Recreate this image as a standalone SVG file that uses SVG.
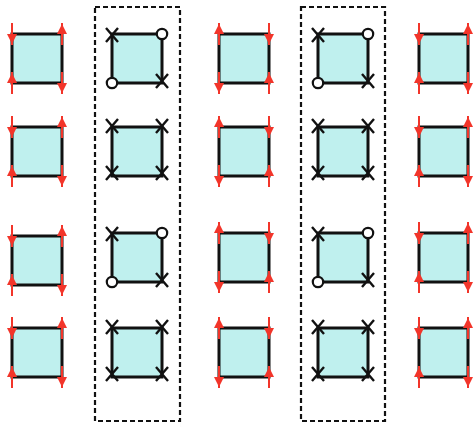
<svg xmlns="http://www.w3.org/2000/svg" xmlns:xlink="http://www.w3.org/1999/xlink" width="475" height="425" viewBox="0 0 475 425">
<style>
.sq{fill:#bff0ee;stroke:#111;stroke-width:3}
.box{fill:none;stroke:#111;stroke-width:2.2;stroke-dasharray:5 3}
.rl{stroke:#f2352a;stroke-width:2}
.rt{fill:#f2352a}
.xm{stroke:#111;stroke-width:2.4;fill:none}
.ci{fill:#fff;stroke:#111;stroke-width:2.2}
</style>
<defs>
<g id="up"><line class="rl" x1="0" y1="-11" x2="0" y2="11"/><polygon class="rt" points="-5,0 5,0 0,-10"/></g>
<g id="dn"><line class="rl" x1="0" y1="-11" x2="0" y2="11"/><polygon class="rt" points="-5,0 5,0 0,10"/></g>
<path id="x" class="xm" d="M-6,-7 L6,7 M6,-7 L-6,7"/>
<circle id="o" class="ci" r="5.2"/>
</defs>
<g id="frames">
<rect class="box" x="95" y="7" width="85" height="414"/>
<rect class="box" x="301" y="7" width="84" height="414"/>
</g>
<!-- column 1 -->
<g id="c1r1"><rect class="sq" x="12" y="34" width="50" height="49"/><use href="#dn" x="12" y="34"/><use href="#up" x="62" y="34"/><use href="#up" x="12" y="83"/><use href="#dn" x="62" y="83"/></g>
<g id="c1r2"><rect class="sq" x="12" y="127" width="50" height="49"/><use href="#dn" x="12" y="127"/><use href="#up" x="62" y="127"/><use href="#up" x="12" y="176"/><use href="#dn" x="62" y="176"/></g>
<g id="c1r3"><rect class="sq" x="12" y="236" width="50" height="49"/><use href="#dn" x="12" y="236"/><use href="#up" x="62" y="236"/><use href="#up" x="12" y="285"/><use href="#dn" x="62" y="285"/></g>
<g id="c1r4"><rect class="sq" x="12" y="328" width="50" height="49"/><use href="#dn" x="12" y="328"/><use href="#up" x="62" y="328"/><use href="#up" x="12" y="377"/><use href="#dn" x="62" y="377"/></g>
<!-- column 2 -->
<g id="c2r1"><rect class="sq" x="112" y="34" width="50" height="49"/><use href="#x" x="112" y="35"/><use href="#o" x="162" y="34"/><use href="#x" x="162" y="81"/><use href="#o" x="112" y="83"/></g>
<g id="c2r2"><rect class="sq" x="112" y="127" width="50" height="49"/><use href="#x" x="112" y="126"/><use href="#x" x="162" y="126"/><use href="#x" x="112" y="173"/><use href="#x" x="162" y="173"/></g>
<g id="c2r3"><rect class="sq" x="112" y="233" width="50" height="49"/><use href="#x" x="112" y="234"/><use href="#o" x="162" y="233"/><use href="#x" x="162" y="280"/><use href="#o" x="112" y="282"/></g>
<g id="c2r4"><rect class="sq" x="112" y="328" width="50" height="49"/><use href="#x" x="112" y="327"/><use href="#x" x="162" y="327"/><use href="#x" x="112" y="374"/><use href="#x" x="162" y="374"/></g>
<!-- column 3 -->
<g id="c3r1"><rect class="sq" x="219" y="34" width="50" height="49"/><use href="#up" x="219" y="34"/><use href="#dn" x="269" y="34"/><use href="#dn" x="219" y="83"/><use href="#up" x="269" y="83"/></g>
<g id="c3r2"><rect class="sq" x="219" y="127" width="50" height="49"/><use href="#up" x="219" y="127"/><use href="#dn" x="269" y="127"/><use href="#dn" x="219" y="176"/><use href="#up" x="269" y="176"/></g>
<g id="c3r3"><rect class="sq" x="219" y="233" width="50" height="49"/><use href="#up" x="219" y="233"/><use href="#dn" x="269" y="233"/><use href="#dn" x="219" y="282"/><use href="#up" x="269" y="282"/></g>
<g id="c3r4"><rect class="sq" x="219" y="328" width="50" height="49"/><use href="#up" x="219" y="328"/><use href="#dn" x="269" y="328"/><use href="#dn" x="219" y="377"/><use href="#up" x="269" y="377"/></g>
<!-- column 4 -->
<g id="c4r1"><rect class="sq" x="318" y="34" width="50" height="49"/><use href="#x" x="318" y="35"/><use href="#o" x="368" y="34"/><use href="#x" x="368" y="81"/><use href="#o" x="318" y="83"/></g>
<g id="c4r2"><rect class="sq" x="318" y="127" width="50" height="49"/><use href="#x" x="318" y="126"/><use href="#x" x="368" y="126"/><use href="#x" x="318" y="173"/><use href="#x" x="368" y="173"/></g>
<g id="c4r3"><rect class="sq" x="318" y="233" width="50" height="49"/><use href="#x" x="318" y="234"/><use href="#o" x="368" y="233"/><use href="#x" x="368" y="280"/><use href="#o" x="318" y="282"/></g>
<g id="c4r4"><rect class="sq" x="318" y="328" width="50" height="49"/><use href="#x" x="318" y="327"/><use href="#x" x="368" y="327"/><use href="#x" x="318" y="374"/><use href="#x" x="368" y="374"/></g>
<!-- column 5 -->
<g id="c5r1"><rect class="sq" x="419" y="34" width="49" height="49"/><use href="#dn" x="419" y="34"/><use href="#up" x="468" y="34"/><use href="#up" x="419" y="83"/><use href="#dn" x="468" y="83"/></g>
<g id="c5r2"><rect class="sq" x="419" y="127" width="49" height="49"/><use href="#dn" x="419" y="127"/><use href="#up" x="468" y="127"/><use href="#up" x="419" y="176"/><use href="#dn" x="468" y="176"/></g>
<g id="c5r3"><rect class="sq" x="419" y="233" width="49" height="49"/><use href="#dn" x="419" y="233"/><use href="#up" x="468" y="233"/><use href="#up" x="419" y="282"/><use href="#dn" x="468" y="282"/></g>
<g id="c5r4"><rect class="sq" x="419" y="328" width="49" height="49"/><use href="#dn" x="419" y="328"/><use href="#up" x="468" y="328"/><use href="#up" x="419" y="377"/><use href="#dn" x="468" y="377"/></g>
</svg>
